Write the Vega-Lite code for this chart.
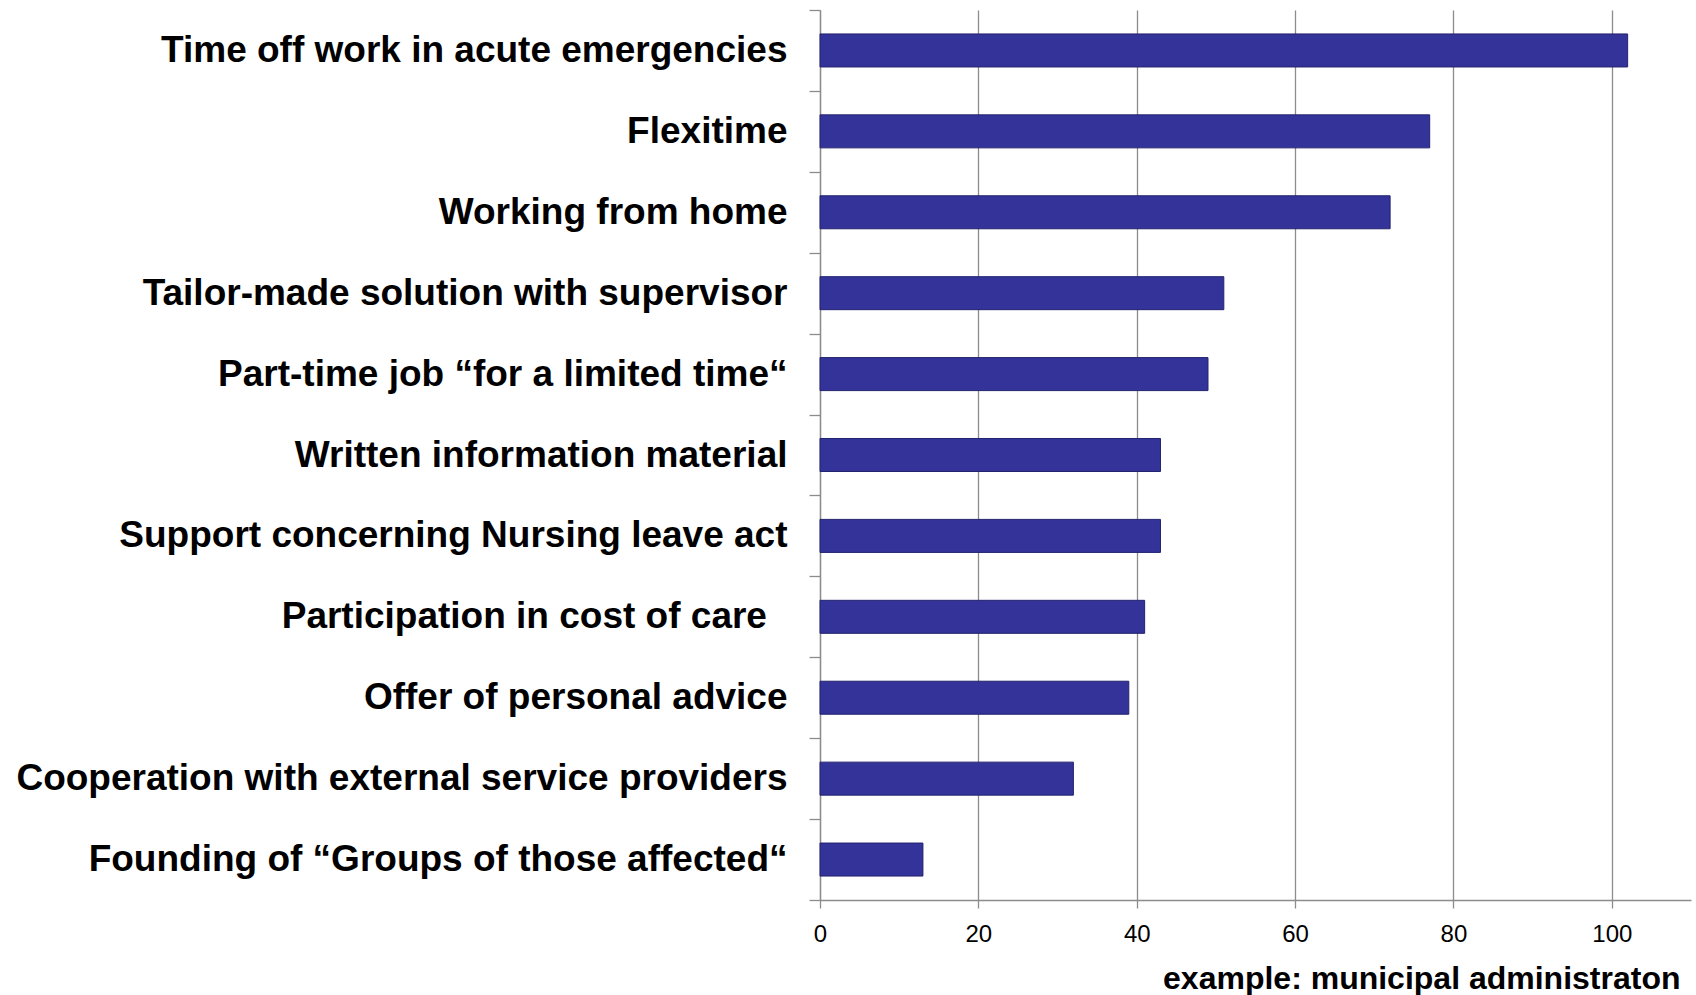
{
  "$schema": "https://vega.github.io/schema/vega-lite/v6.json",
  "autosize": "none",
  "width": 871,
  "height": 890,
  "padding": {"left": 820, "top": 10, "right": 5, "bottom": 95},
  "background": "white",
  "config": {"view": {"stroke": null}, "font": "Liberation Sans"},
  "data": {
    "values": [
      {"measure": "Time off work in acute emergencies", "value": 102},
      {"measure": "Flexitime", "value": 77},
      {"measure": "Working from home", "value": 72},
      {"measure": "Tailor-made solution with supervisor", "value": 51},
      {"measure": "Part-time job “for a limited time“", "value": 49},
      {"measure": "Written information material", "value": 43},
      {"measure": "Support concerning Nursing leave act", "value": 43},
      {"measure": "Participation in cost of care\u00a0\u00a0\u200b", "value": 41},
      {"measure": "Offer of personal advice", "value": 39},
      {"measure": "Cooperation with external service providers", "value": 32},
      {"measure": "Founding of “Groups of those affected“", "value": 13}
    ]
  },
  "mark": {
    "type": "bar",
    "color": "#333399",
    "stroke": "#23236e",
    "strokeWidth": 1,
    "height": {"band": 0.408}
  },
  "encoding": {
    "y": {
      "field": "measure",
      "type": "nominal",
      "sort": null,
      "scale": {"paddingInner": 0, "paddingOuter": 0},
      "axis": {
        "title": null,
        "tickBand": "extent",
        "labelFontSize": 37,
        "labelFontWeight": "bold",
        "labelColor": "#000000",
        "labelPadding": 22,
        "labelLimit": 900,
        "tickSize": 11,
        "tickColor": "#8c8c8c",
        "tickWidth": 1.3,
        "domainColor": "#8c8c8c",
        "domainWidth": 1.3,
        "grid": false
      }
    },
    "x": {
      "field": "value",
      "type": "quantitative",
      "scale": {"domain": [0, 110], "nice": false},
      "axis": {
        "values": [0, 20, 40, 60, 80, 100],
        "title": "example: municipal administraton",
        "titleFontSize": 32,
        "titleFontWeight": "bold",
        "titleColor": "#000000",
        "titleAnchor": "end",
        "titleAlign": "right",
        "titleX": 860,
        "titleY": 88,
        "titleBaseline": "alphabetic",
        "labelFontSize": 24,
        "labelColor": "#000000",
        "labelPadding": 14,
        "labelFlush": false,
        "tickSize": 8,
        "tickColor": "#8c8c8c",
        "tickWidth": 1.3,
        "domainColor": "#8c8c8c",
        "domainWidth": 1.3,
        "grid": true,
        "gridColor": "#8c8c8c",
        "gridWidth": 1.3,
        "gridOpacity": 1
      }
    }
  }
}
